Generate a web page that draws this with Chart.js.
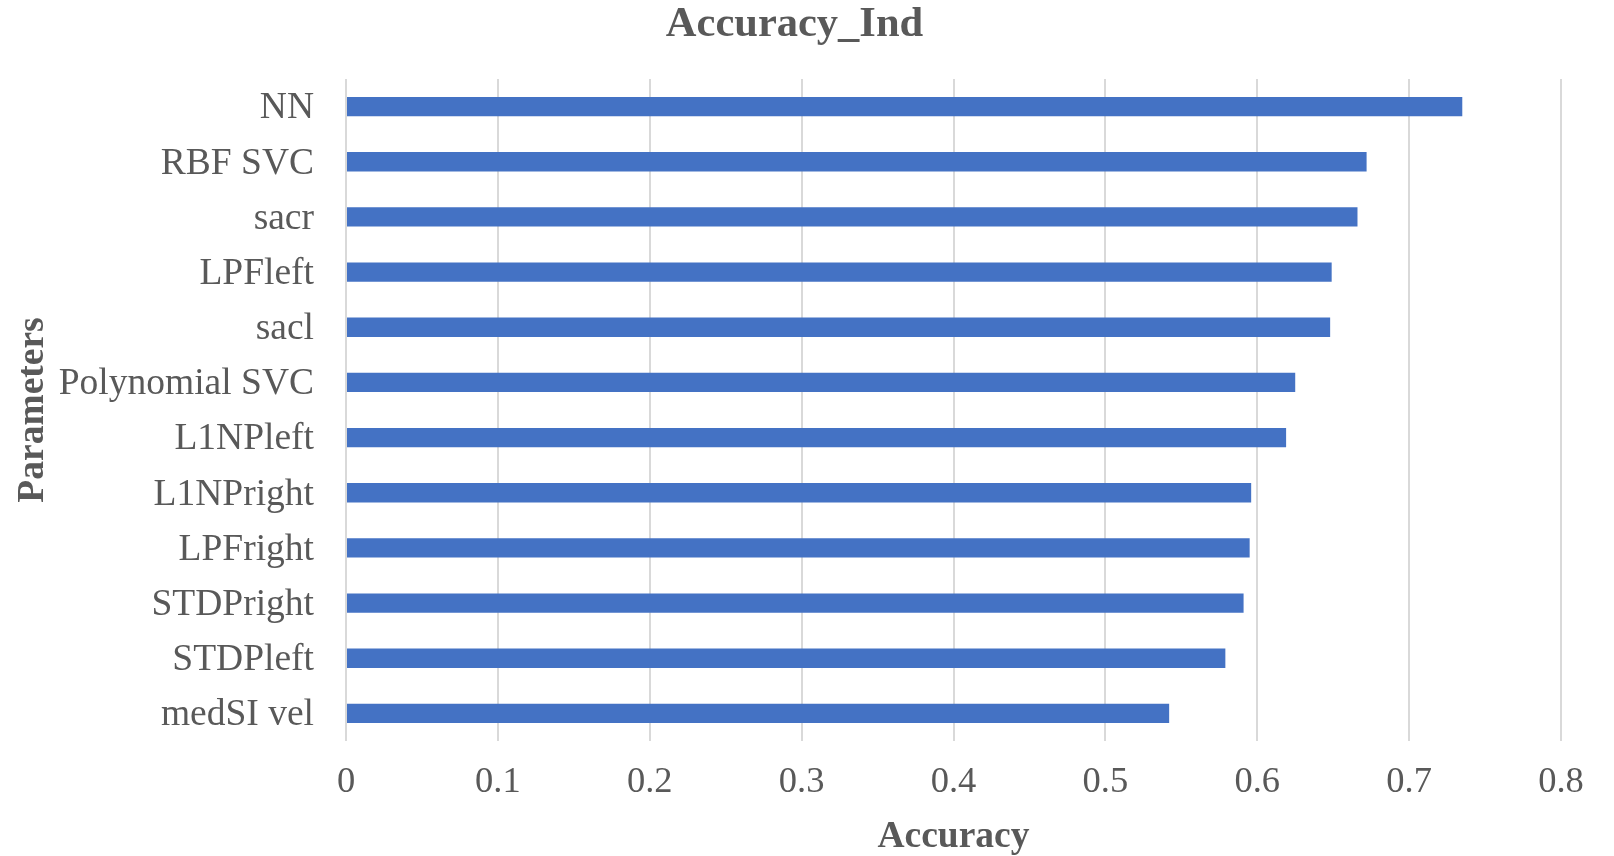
<!DOCTYPE html>
<html lang="en">
<head>
    <meta charset="UTF-8">
    <title>Accuracy_Ind</title>
    <script src="https://cdn.jsdelivr.net/npm/chart.js"></script>
    <style>
        body {
            margin: 0;
            padding: 0;
            background-color: #ffffff;
        }
        #chart {
            display: block;
        }
    </style>
</head>
<body>
    <canvas id="chart" width="1614" height="856"></canvas>

    <script>
        // categories, top to bottom
        const parameters = [
            'NN', 'RBF SVC', 'sacr', 'LPFleft', 'sacl', 'Polynomial SVC',
            'L1NPleft', 'L1NPright', 'LPFright', 'STDPright', 'STDPleft', 'medSI vel'
        ];
        const accuracy = [
            0.735, 0.672, 0.666, 0.649, 0.648, 0.625,
            0.619, 0.596, 0.595, 0.591, 0.579, 0.542
        ];
        const xTicks = [0, 0.1, 0.2, 0.3, 0.4, 0.5, 0.6, 0.7, 0.8];

        const textColor = '#595959';
        const serif = "'Liberation Serif', 'Times New Roman', serif";

        const ctx = document.getElementById('chart').getContext('2d');
        new Chart(ctx, {
            type: 'bar',
            data: {
                labels: parameters,
                datasets: [{
                    label: 'Accuracy',
                    data: accuracy,
                    backgroundColor: '#4472C4',
                    borderWidth: 0,
                    categoryPercentage: 1,
                    barPercentage: 0.35
                }]
            },
            options: {
                indexAxis: 'y',
                responsive: false,
                animation: false,
                // left padding pushes the chart title a bit right, the y title is pulled back below
                layout: { padding: { left: 28, right: 53, top: 0, bottom: 0 } },
                plugins: {
                    legend: { display: false },
                    tooltip: { enabled: false },
                    title: {
                        display: true,
                        text: 'Accuracy_Ind',
                        color: textColor,
                        font: { family: serif, size: 42.5, weight: 'bold', lineHeight: 1 },
                        padding: { top: 4, bottom: 32.5 }
                    }
                },
                scales: {
                    x: {
                        min: 0,
                        max: 0.8,
                        afterBuildTicks: (scale) => {
                            scale.ticks = xTicks.map(v => ({ value: v }));
                        },
                        afterFit: (scale) => { scale.height = 115; },
                        grid: {
                            color: '#d9d9d9',
                            lineWidth: 2,
                            drawTicks: false
                        },
                        border: { display: false },
                        ticks: {
                            color: textColor,
                            padding: 20,
                            font: { family: serif, size: 36.5 },
                            callback: (v) => String(v)
                        },
                        title: {
                            display: true,
                            text: 'Accuracy',
                            color: textColor,
                            font: { family: serif, size: 37.5, weight: 'bold', lineHeight: 1 },
                            padding: { top: 0, bottom: 0 }
                        }
                    },
                    y: {
                        afterFit: (scale) => { scale.width = 318; },
                        grid: { display: false, drawTicks: false },
                        border: { display: false },
                        ticks: {
                            color: textColor,
                            padding: 32,
                            labelOffset: 2,
                            font: { family: serif, size: 37.5 }
                        },
                        title: {
                            display: true,
                            text: 'Parameters',
                            color: textColor,
                            font: { family: serif, size: 37.5, weight: 'bold', lineHeight: 1.2 },
                            padding: { top: -17, bottom: 0 }
                        }
                    }
                }
            }
        });
    </script>
</body>
</html>
